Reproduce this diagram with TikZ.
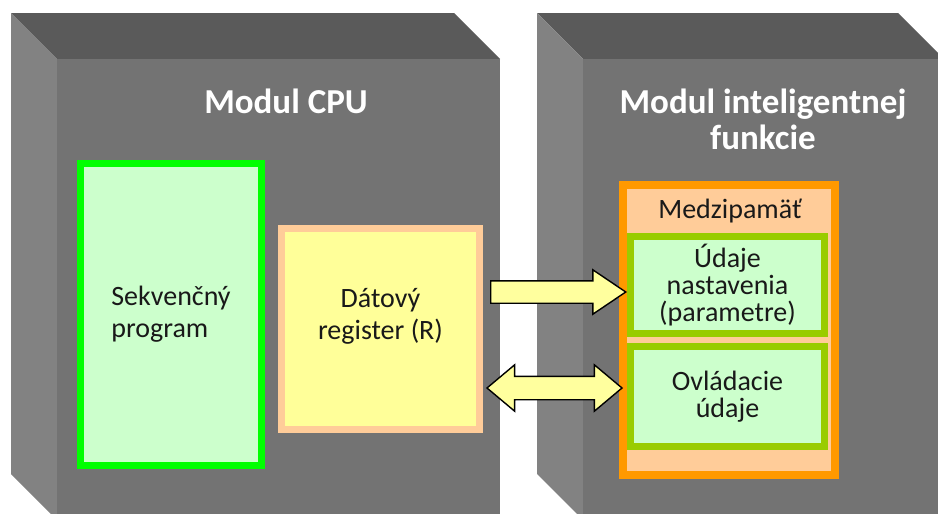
\documentclass[tikz,border=0pt]{standalone}
\usepackage{fontspec}
\setmainfont{Carlito}
\usetikzlibrary{shapes.arrows, calc, positioning}
\definecolor{faceTop}{HTML}{5A5A5A}
\definecolor{faceFront}{HTML}{737373}
\definecolor{faceSide}{HTML}{828282}
\definecolor{progGreen}{HTML}{00FF00}
\definecolor{paleGreen}{HTML}{CCFFCC}
\definecolor{regBorder}{HTML}{FFCC99}
\definecolor{regFill}{HTML}{FFFF99}
\definecolor{bufOrange}{HTML}{FF9900}
\definecolor{bufFill}{HTML}{FFCC99}
\definecolor{dataGreen}{HTML}{99CC00}
\definecolor{arrowFill}{HTML}{FFFF9E}
\tikzset{
    modTitle/.style={text=white, align=center, font=\bfseries\fontsize{35}{36}\selectfont},
    lbl/.style={text=black!90, font=\fontsize{28}{32}\selectfont},
    progBox/.style={draw=progGreen, fill=paleGreen, line width=7pt, outer sep=0pt, lbl, align=left},
    regBox/.style={draw=regBorder, fill=regFill, line width=7pt, outer sep=0pt},
    bufBox/.style={draw=bufOrange, fill=bufFill, line width=8pt, outer sep=0pt},
    dataBox/.style={draw=dataGreen, fill=paleGreen, line width=7pt, outer sep=0pt, lbl, align=center, font=\fontsize{28}{27}\selectfont},
    fatArrow/.style={single arrow, draw=black, line width=1.4pt, fill=arrowFill, inner xsep=0pt, inner ysep=10.5pt, minimum width=43pt, single arrow head extend=11pt, single arrow tip angle=68, minimum height=135pt},
    dblArrow/.style={double arrow, draw=black, line width=1.4pt, fill=arrowFill, inner xsep=0pt, inner ysep=11pt, minimum width=45pt, double arrow head extend=11.5pt, double arrow tip angle=80, minimum height=135pt},
}
\newcommand{\drawModule}[2]{
    \fill[faceTop] (#1-46,13) -- (#2-46,13) -- (#2,59) -- (#1,59) -- cycle;
    \fill[faceSide] (#1-46,13) -- (#1,59) -- (#1,520) -- (#1-46,474) -- cycle;
    \fill[faceFront] (#1,59) rectangle (#2,530);
}

\begin{document}
\begin{tikzpicture}[x=1pt, y=-1pt]
        \useasboundingbox (0,0) rectangle (938,514);
        \clip (0,0) rectangle (938,514);

        \drawModule{57}{500}
        \drawModule{583}{944}

        \node[modTitle] (cpuTitle) at (286,101) {Modul CPU};
        \node[modTitle] (ifmTitle) at (763,119) {Modul inteligentnej\\funkcie};

        \node[progBox, minimum width=181pt, minimum height=302pt] (prog) at (171,314.5) {Sekvenčný\\program};
        \node[regBox, minimum width=198pt, minimum height=201pt] (reg) at (380.5,329) {};
        \node[lbl, align=center] (regText) at ([yshift=13pt]reg.center) {Dátový\\register (R)};

        \node[bufBox, minimum width=212pt, minimum height=290pt] (buf) at (729,330) {};
        \node[lbl] (bufText) at (730,211) {Medzipamäť};
        \node[dataBox, minimum width=194pt, minimum height=97pt] (param) at (727.5,285) {Údaje\\nastavenia\\(parametre)};
        \node[dataBox, minimum width=194pt, minimum height=100pt] (ctrl) at (727.5,396.5) {Ovládacie\\údaje};

        \node[fatArrow, anchor=tip] (toParam) at ([xshift=-3.5pt, yshift=-7pt]param.west) {};
        \node[dblArrow] (toCtrl) at ([xshift=-76pt, yshift=8.5pt]ctrl.west) {};

    \end{tikzpicture}
\end{document}
